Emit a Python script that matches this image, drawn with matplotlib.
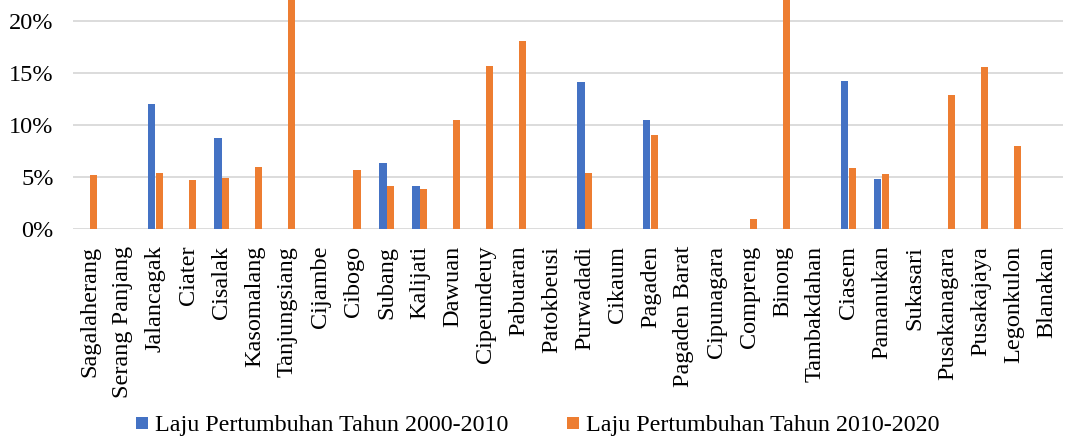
import matplotlib
matplotlib.use("Agg")
import matplotlib.pyplot as plt
import numpy as np
from matplotlib.ticker import PercentFormatter
from matplotlib.lines import Line2D

categories = ["Sagalaherang", "Serang Panjang", "Jalancagak", "Ciater", "Cisalak",
              "Kasomalang", "Tanjungsiang", "Cijambe", "Cibogo", "Subang", "Kalijati",
              "Dawuan", "Cipeundeuy", "Pabuaran", "Patokbeusi", "Purwadadi", "Cikaum",
              "Pagaden", "Pagaden Barat", "Cipunagara", "Compreng", "Binong",
              "Tambakdahan", "Ciasem", "Pamanukan", "Sukasari", "Pusakanagara",
              "Pusakajaya", "Legonkulon", "Blanakan"]

rate_2000_2010 = [0, 0, 12.0, 0, 8.75, 0, 0, 0, 0, 6.3, 4.1, 0, 0, 0, 0, 14.1, 0,
                  10.45, 0, 0, 0, 0, 0, 14.2, 4.8, 0, 0, 0, 0, 0]
rate_2010_2020 = [5.2, 0, 5.4, 4.7, 4.9, 6.0, 30.0, 0, 5.7, 4.1, 3.8, 10.45, 15.7,
                  18.1, 0, 5.4, 0, 9.0, 0, 0, 1.0, 30.0, 0, 5.9, 5.3, 0, 12.9, 15.6,
                  8.0, 0]

series_labels = ["Laju Pertumbuhan Tahun 2000-2010", "Laju Pertumbuhan Tahun 2010-2020"]
colors = ["#4472C4", "#ED7D31"]

plt.rcParams['font.family'] = ['Liberation Serif', 'DejaVu Serif']
fig = plt.figure(figsize=(10.65, 4.4), dpi=100)
ax = fig.add_axes([73/1065, 1 - 229/440, (1063-73)/1065, 229/440])

x = np.arange(len(categories))
w = 0.24
ax.bar(x - w/2, rate_2000_2010, width=w, color=colors[0], label=series_labels[0], zorder=3)
ax.bar(x + w/2, rate_2010_2020, width=w, color=colors[1], label=series_labels[1], zorder=3)

ax.set_xlim(-0.5, len(categories) - 0.5)
ax.set_ylim(0, 22.0)
ax.set_yticks([0, 5, 10, 15, 20])
ax.yaxis.set_major_formatter(PercentFormatter(decimals=0))
ax.set_xticks(x)
ax.set_xticklabels(categories, rotation=90, va='top', ha='center')
ax.tick_params(axis='both', length=0, labelsize=17.5, colors='#000000')
ax.tick_params(axis='x', pad=12)
ax.tick_params(axis='y', pad=14)
ax.grid(axis='y', color='#D9D9D9', linewidth=1.3, zorder=0)
for s in ax.spines.values():
    s.set_visible(False)

handles = [Line2D([], [], linestyle='none', marker='s', markersize=8.6,
                  markerfacecolor=c, markeredgewidth=0) for c in colors]
fig.legend(handles, series_labels, loc='center', bbox_to_anchor=(0.505, 1 - 425/440),
           ncol=2, frameon=False, fontsize=17.3, handlelength=0.5, handletextpad=0.3,
           columnspacing=2.45)

fig.savefig("out.png", dpi=100)
